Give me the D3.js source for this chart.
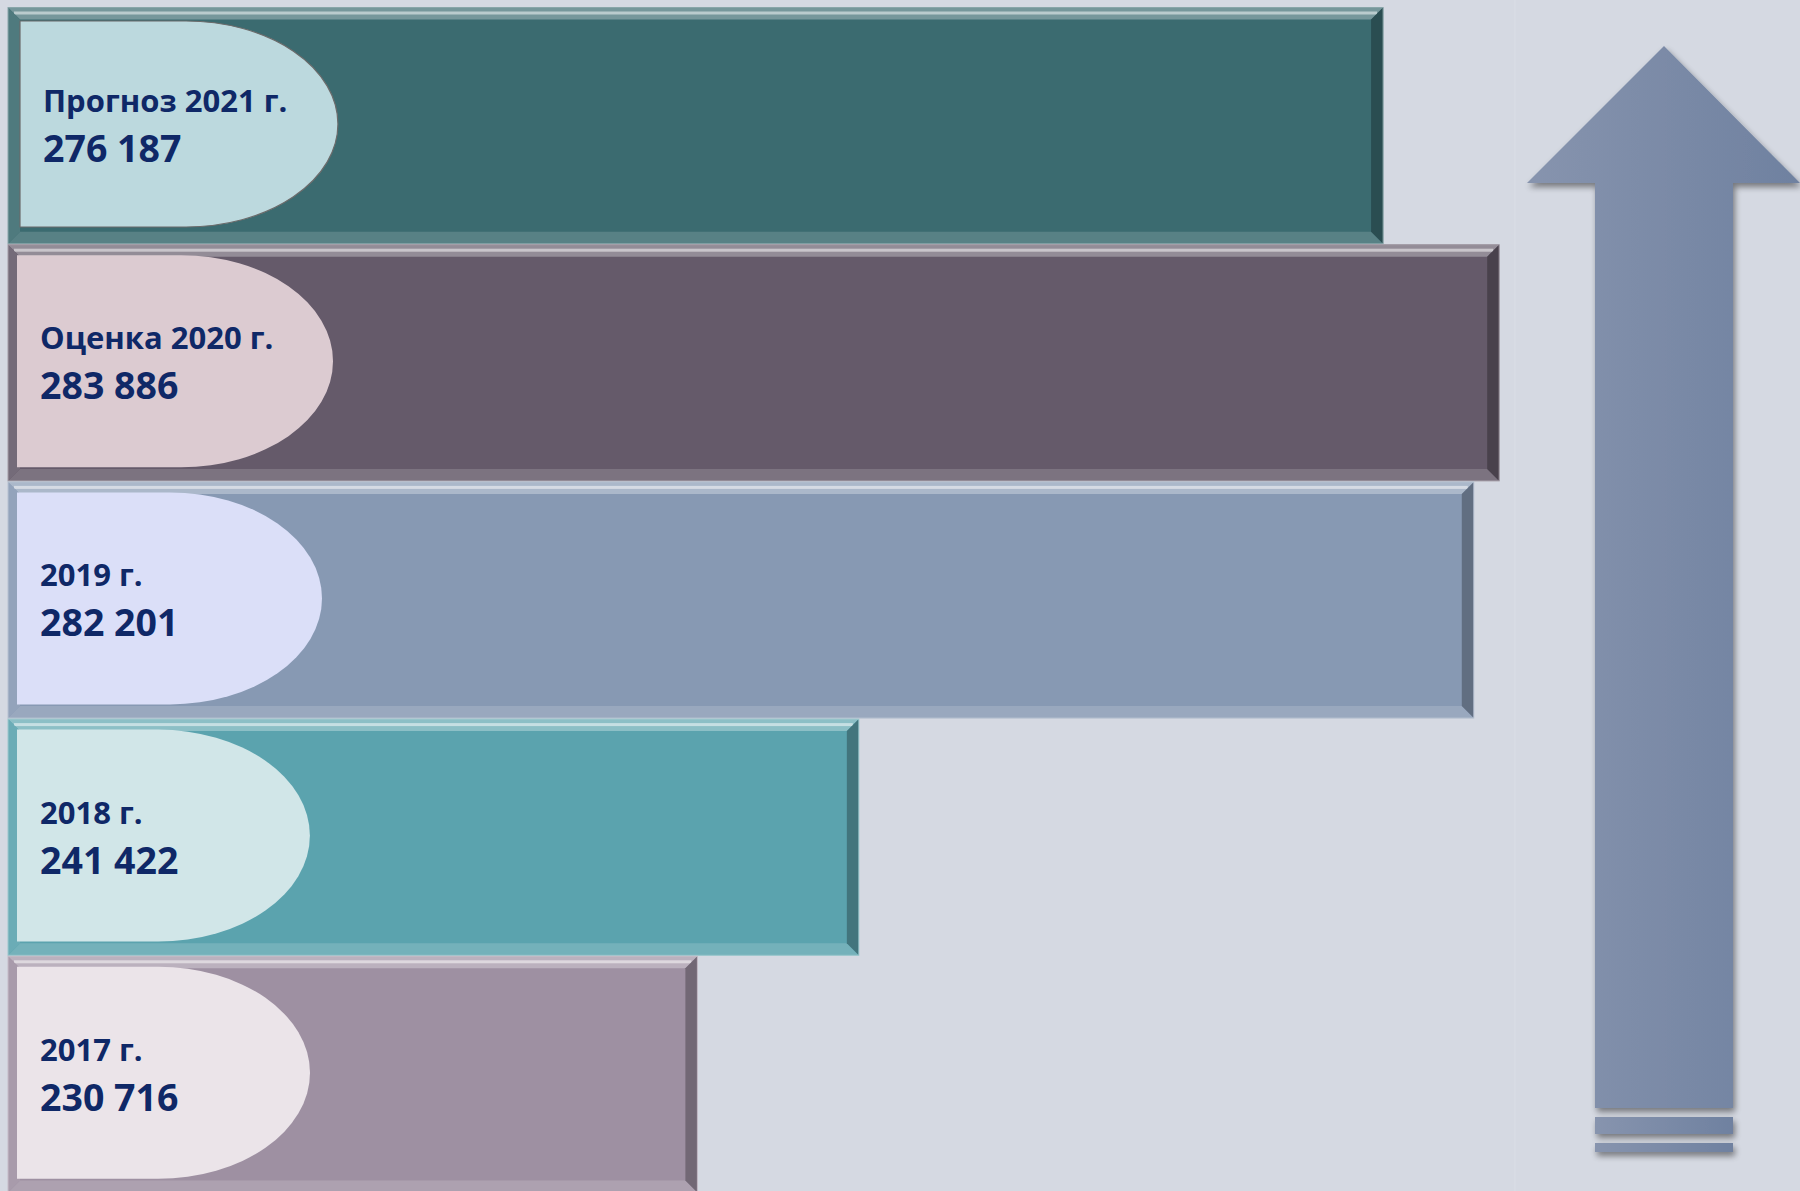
<!DOCTYPE html>
<html><head><meta charset="utf-8">
<script src="https://cdn.jsdelivr.net/npm/d3@7"></script>
<style>
html,body{margin:0;padding:0;background:#d5d9e2;}
svg{display:block;}
</style></head>
<body>
<svg id="chart" width="1800" height="1191"></svg>
<script>
// ---- data ----
const categories = ["Прогноз 2021 г.", "Оценка 2020 г.", "2019 г.", "2018 г.", "2017 г."];
const values = [276187, 283886, 282201, 241422, 230716];
// ---- styles ----
const barColors = ["#3b6b70", "#655a6a", "#8799b3", "#5ba3ae", "#9e90a2"];
const labelColors = ["#bcd9de", "#dccbd1", "#dbdff8", "#d1e6e8", "#ebe4e9"];

const W = 1800, H = 1191;
const svg = d3.select("#chart");
svg.append("rect").attr("width", W).attr("height", H).attr("fill", "#d5d9e2");
svg.append("line").attr("x1", 1515).attr("x2", 1515).attr("y1", 0).attr("y2", H)
  .attr("stroke", "#dadee6").attr("stroke-width", 1);

const x = d3.scaleLinear().domain([185000, 285000]).range([8, 1516]);
const y = d3.scaleBand().domain(categories).range([7, 1193]).paddingInner(0);

const fmt = d3.formatLocale({decimal: ",", thousands: " ", grouping: [3], currency: ["", ""]}).format(",d");

const defs = svg.append("defs");
const sh = defs.append("filter").attr("id", "shadow").attr("x", "-20%").attr("y", "-20%").attr("width", "140%").attr("height", "140%");
sh.append("feGaussianBlur").attr("in", "SourceAlpha").attr("stdDeviation", 3);
sh.append("feOffset").attr("dx", 2).attr("dy", 4).attr("result", "b");
sh.append("feComponentTransfer").append("feFuncA").attr("type", "linear").attr("slope", 0.45);
const m = sh.append("feMerge"); m.append("feMergeNode"); m.append("feMergeNode").attr("in", "SourceGraphic");

const ag = defs.append("linearGradient").attr("id", "arrowGrad").attr("x1", "0").attr("x2", "1").attr("y1", "0").attr("y2", "0");
ag.append("stop").attr("offset", "0").attr("stop-color", "#8794ae");
ag.append("stop").attr("offset", "1").attr("stop-color", "#6f81a0");

const mix = (c, t, k) => d3.interpolateRgb(c, t)(k);
const bev = 12;

const rows = categories.map((c, i) => ({cat: c, val: values[i], color: barColors[i], lab: labelColors[i], i}));

const g = svg.append("g");
const bar = g.selectAll("g.bar").data(rows).join("g").attr("class", "bar");

bar.each(function(d) {
  const s = d3.select(this);
  const x0 = x(185000);
  const x1 = x(d.val);
  const y0 = y(d.cat) + 0.5;
  const y1 = y(d.cat) + y.bandwidth() - 0.5;
  s.append("rect").attr("x", x0).attr("y", y0).attr("width", x1 - x0).attr("height", y1 - y0).attr("fill", d.color);
  const poly = (pts, fill) => s.append("polygon").attr("points", pts.map(p => p.join(",")).join(" ")).attr("fill", fill);
  // top
  poly([[x0, y0], [x1, y0], [x1 - bev, y0 + bev], [x0 + bev, y0 + bev]], mix(d.color, "#ffffff", 0.3));
  s.append("rect").attr("x", x0 + 6).attr("y", y0 + 4).attr("width", x1 - x0 - 12).attr("height", 3).attr("fill", mix(d.color, "#ffffff", 0.65));
  // bottom
  poly([[x0, y1], [x1, y1], [x1 - bev, y1 - bev], [x0 + bev, y1 - bev]], mix(d.color, "#ffffff", 0.15));
  // left
  poly([[x0, y0], [x0 + bev, y0 + bev], [x0 + bev, y1 - bev], [x0, y1]], mix(d.color, "#ffffff", 0.1));
  // right
  poly([[x1, y0], [x1 - bev, y0 + bev], [x1 - bev, y1 - bev], [x1, y1]], mix(d.color, "#000000", 0.28));
  s.append("rect").attr("x", x0).attr("y", y0).attr("width", x1 - x0).attr("height", y1 - y0)
    .attr("fill", "none").attr("stroke", mix(d.color, "#ffffff", 0.4)).attr("stroke-width", 1);

  // label shape (flowchart "delay")
  const lx = d.i === 0 ? 20 : 17;
  const lt = y(d.cat) + 11 + (d.i === 0 ? 3 : 0);
  const lh = d.i === 0 ? 206 : 212;
  const widths = [318, 316, 305, 293, 293];
  const lw = widths[d.i];
  const rx = 152, ry = lh / 2;
  const path = `M${lx},${lt} H${lx + lw - rx} A${rx},${ry} 0 0 1 ${lx + lw - rx},${lt + lh} H${lx} Z`;
  s.append("path").attr("d", path).attr("fill", d.lab)
    .attr("stroke", d.i === 0 ? "#6b6b6b" : "none").attr("stroke-width", 1.2);

  const tx = d.i === 0 ? 43 : 40;
  s.append("text").attr("x", tx).attr("y", y(d.cat) + 105)
    .attr("font-family", "'Open Sans', sans-serif").attr("font-weight", 700).attr("font-size", 31)
    .attr("fill", "#0f2867").text(d.cat);
  s.append("text").attr("x", tx).attr("y", y(d.cat) + 155)
    .attr("font-family", "'Open Sans', sans-serif").attr("font-weight", 700).attr("font-size", 37.5)
    .attr("fill", "#0f2867").text(fmt(d.val));
});

// ---- arrow ----
const ar = svg.append("g").attr("filter", "url(#shadow)");
ar.append("path")
  .attr("d", "M1664,46 L1800,183 L1733,183 L1733,1108 L1595,1108 L1595,183 L1527,183 Z")
  .attr("fill", "url(#arrowGrad)");
ar.append("rect").attr("x", 1595).attr("y", 1117).attr("width", 138).attr("height", 17).attr("fill", "url(#arrowGrad)");
ar.append("rect").attr("x", 1595).attr("y", 1143).attr("width", 138).attr("height", 9).attr("fill", "url(#arrowGrad)");
</script>
</body></html>
